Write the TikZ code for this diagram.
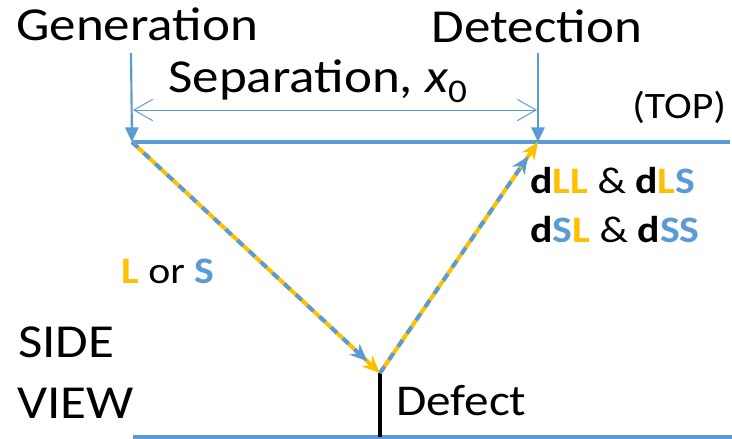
\documentclass[tikz,border=0pt]{standalone}
\usepackage{fontspec}
\setmainfont{Carlito}[FakeStretch=1.12]
\usetikzlibrary{arrows.meta}
\definecolor{beam}{HTML}{5B9BD5}
\definecolor{gold}{HTML}{FFC000}

\begin{document}
\begin{tikzpicture}[x=.75pt,y=-.75pt,
  every node/.style={inner sep=0pt,anchor=base west},
  big/.style={font=\fontsize{35.5}{40}\selectfont},
  small/.style={font=\fontsize{28}{32}\selectfont},
  mode/.style={font=\fontsize{28}{32}\selectfont},
  surf/.style={beam,line width=2.8pt},
  probe/.style={beam,line width=1.6pt,-{Triangle[length=11pt,width=10pt]}},
  barb/.tip={Straight Barb[length=14pt,width=16pt]},
  wave/.style={gold,line width=3pt,-{Stealth[length=13pt,width=11pt,inset=4pt]}},
  wavedash/.style={beam,line width=3pt,dash pattern=on 6pt off 6pt,shorten >=13pt,
    -{Stealth[length=13pt,width=11pt,inset=4pt]}}]
  \useasboundingbox (0,0) rectangle (732,439);
  % labels
  \node[big,anchor=base] (gen) at (137,40) {Generation};
  \node[big,anchor=base] (det) at (537,42) {Detection};
  \node[big] (sep) at (168,92) {Separation, {\itshape x}\textsubscript{0}};
  \node[small] (top) at (632,118) {(TOP)};
  \node[mode] (lls) at (530,193) {\textbf{d\textcolor{gold}{LL}} \& \textbf{d\textcolor{gold}{L}\textcolor{beam}{S}}};
  \node[mode] (sls) at (530,242) {\textbf{d\textcolor{beam}{S}\textcolor{gold}{L}} \& \textbf{d\textcolor{beam}{SS}}};
  \node[mode] (lors) at (121,283) {\textbf{\textcolor{gold}{L}} or \textbf{\textcolor{beam}{S}}};
  \node[big] (side) at (18,357) {SIDE};
  \node[big] (view) at (17,418) {VIEW};
  \node[big,font=\fontsize{33}{38}\selectfont] (dft) at (396,415) {Defect};
  % plate and defect
  \coordinate (src) at (132,142); \coordinate (rcv) at (538,142);
  \coordinate (tr) at (730,142);
  \coordinate (bl) at (133,437); \coordinate (br) at (732,437);
  \coordinate (tip) at (380,373); \coordinate (foot) at (380,437);
  \draw[surf] (src)--(tr);
  \draw[surf] (bl)--(br);
  \draw[line width=2.4pt] (tip)--(foot);
  % transducers
  \coordinate (gtop) at (131,53); \coordinate (dtop) at (538,53);
  \draw[probe] (gtop)--(src);
  \draw[probe] (dtop)--(rcv);
  \coordinate (sa) at (133,110); \coordinate (sb) at (537,110);
  \draw[beam,line width=.75pt,barb-barb] (sa)--(sb);
  % ray paths
  \draw[wave] (src)--(tip);
  \draw[wavedash] (src)--(tip);
  \draw[wave] (tip)--(rcv);
  \draw[wavedash] (tip)--(rcv);
\end{tikzpicture}
\end{document}
